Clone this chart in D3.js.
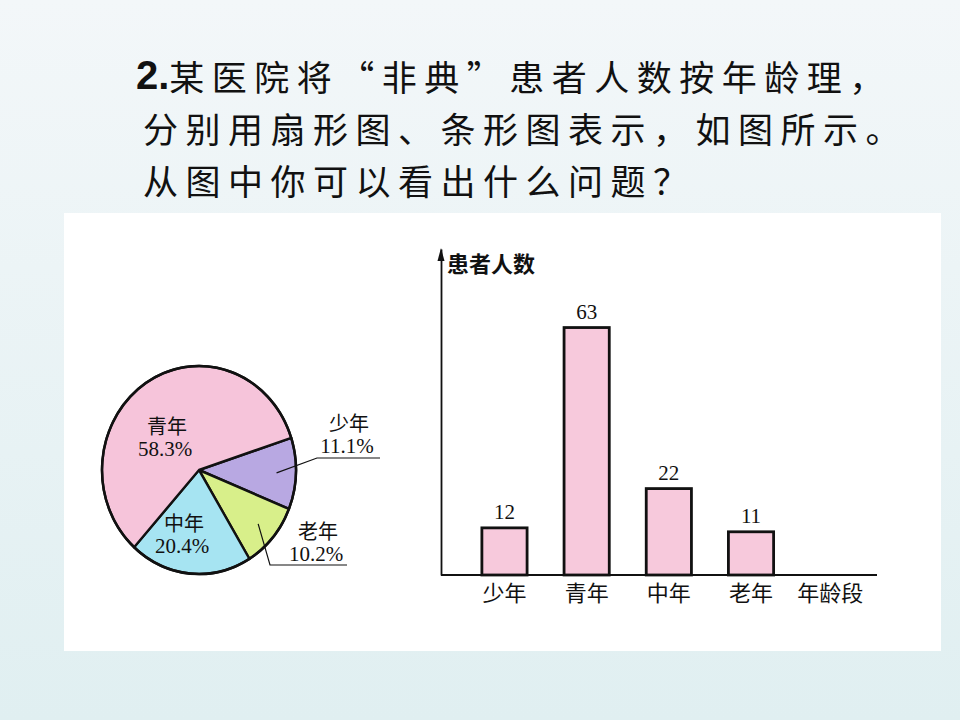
<!DOCTYPE html>
<html><head><meta charset="utf-8">
<script src="https://cdn.jsdelivr.net/npm/d3@7"></script>
<style>html,body{margin:0;padding:0;overflow:hidden;background:#fff}</style>
</head><body><svg id="c" width="960" height="720"></svg>
<script>
// ---- data ----
const categories = ["少年", "青年", "中年", "老年"];
const patients = [12, 63, 22, 11];
const pieOrder = ["少年", "老年", "中年", "青年"];
const titleNumber = "2.";
const titleLines = ["某医院将“非典”患者人数按年龄理，", "分别用扇形图、条形图表示，如图所示。", "从图中你可以看出什么问题？"];
const yAxisTitle = "患者人数";
const xAxisTitle = "年龄段";
const yAxisMax = 83;

// ---- styles ----
const sliceColors = {"少年": "#b8a8e2", "青年": "#f6c4da", "中年": "#a6e4f2", "老年": "#d8ef8a"};
const barColor = "#f7c9dc";
const cjk = "'Noto Sans CJK SC', sans-serif";
const serif = "'Liberation Serif', 'Noto Sans CJK SC', serif";

const svg = d3.select("#c");
const defs = svg.append("defs");
const grad = defs.append("linearGradient").attr("id", "bg").attr("x1", 0).attr("y1", 0).attr("x2", 0).attr("y2", 1);
grad.append("stop").attr("offset", "0%").attr("stop-color", "#f3f7f9");
grad.append("stop").attr("offset", "100%").attr("stop-color", "#e0eff1");
svg.append("rect").attr("width", 960).attr("height", 720).attr("fill", "url(#bg)");

// panel
svg.append("rect").attr("x", 64).attr("y", 213).attr("width", 877).attr("height", 438).attr("fill", "#ffffff");

// ---- title ----
const title = svg.append("g").attr("fill", "#111");
const lineY = [75, 127, 179];
const lineX = [136, 143, 143];
titleLines.forEach((t, i) => {
  const txt = title.append("text").attr("x", lineX[i]).attr("y", lineY[i])
    .attr("dominant-baseline", "central").style("font-size", "35px").style("font-family", cjk);
  if (i === 0) {
    txt.append("tspan").style("font-family", "'Liberation Sans', Arial, sans-serif")
      .style("font-weight", "bold").style("font-size", "40px").text(titleNumber);
  }
  txt.append("tspan").style("letter-spacing", "7.5px").text(t);
});

// ---- pie ----
const total = d3.sum(patients);
const valueOf = name => patients[categories.indexOf(name)];
const pieCx = 199, pieCy = 470, R = 100;
const startDeg = 72;
const pieG = svg.append("g").attr("transform", `translate(${pieCx},${pieCy}) scale(0.97,1.04)`);
const pie = d3.pie().sort(null).value(d => d.value)
  .startAngle(startDeg * Math.PI / 180).endAngle(startDeg * Math.PI / 180 + 2 * Math.PI);
const arcs = pie(pieOrder.map(n => ({name: n, value: valueOf(n)})));
const arc = d3.arc().innerRadius(0).outerRadius(R);
pieG.selectAll("path.slice").data(arcs).join("path").attr("class", "slice")
  .attr("d", arc).attr("fill", d => sliceColors[d.data.name])
  .attr("stroke", "#111").attr("stroke-width", 2.4).attr("stroke-linejoin", "round");
pieG.append("circle").attr("r", R).attr("fill", "none").attr("stroke", "#111").attr("stroke-width", 2.6);

const pct = d3.format(".1%");
// label layout relative to pie center (positions only)
const pieLabelLayout = {
  "青年": {x: -32, y: -45},
  "中年": {x: -15, y: 52},
  "少年": {x: 150, y: -48, elbow: [118, -12], lineEnd: 181},
  "老年": {x: 119, y: 60, elbow: [71, 95], lineEnd: 148}
};
const anchorArc = d3.arc().innerRadius(R * 0.8).outerRadius(R * 0.8);
const labelsG = svg.append("g").attr("transform", `translate(${pieCx},${pieCy})`);
arcs.forEach(a => {
  const L = pieLabelLayout[a.data.name];
  labelsG.append("text").attr("x", L.x).attr("y", L.y).attr("text-anchor", "middle")
    .attr("dominant-baseline", "central").style("font-family", cjk).style("font-size", "20px").attr("fill", "#111")
    .text(a.data.name);
  labelsG.append("text").attr("x", L.x - 2).attr("y", L.y + 24).attr("text-anchor", "middle")
    .attr("dominant-baseline", "central").style("font-family", serif).style("font-size", "21px").attr("fill", "#111")
    .text(pct(a.data.value / total));
  if (L.elbow) {
    const c = anchorArc.centroid(a);
    const p0 = [c[0] * 0.97, c[1] * 1.04];
    labelsG.append("path")
      .attr("d", d3.line()([p0, L.elbow, [L.lineEnd, L.elbow[1]]]))
      .attr("fill", "none").attr("stroke", "#111").attr("stroke-width", 1.2);
  }
});

// ---- bar chart ----
const x = d3.scaleBand().domain(categories).range([463.4, 792.1]).paddingInner(0.45).paddingOuter(0.225);
const y = d3.scaleLinear().domain([0, yAxisMax]).range([575, 249]);
const axisLeftX = 441;
const barG = svg.append("g");

barG.selectAll("rect.bar").data(categories).join("rect").attr("class", "bar")
  .attr("x", d => x(d)).attr("width", x.bandwidth())
  .attr("y", (d, i) => y(patients[i])).attr("height", (d, i) => y(0) - y(patients[i]))
  .attr("fill", barColor).attr("stroke", "#111").attr("stroke-width", 2.8);

barG.selectAll("text.val").data(categories).join("text").attr("class", "val")
  .attr("x", d => x(d) + x.bandwidth() / 2).attr("y", (d, i) => y(patients[i]) - 9)
  .attr("text-anchor", "middle").style("font-family", serif).style("font-size", "21px").attr("fill", "#111")
  .text((d, i) => patients[i]);

// x axis
const xAxis = barG.append("g").attr("transform", `translate(0,${y(0)})`)
  .call(d3.axisBottom(x).tickSize(0).tickPadding(10));
xAxis.select(".domain").remove();
xAxis.selectAll("text").style("font-family", cjk).style("font-size", "22px").attr("fill", "#111");
barG.append("line").attr("x1", axisLeftX).attr("x2", 877).attr("y1", y(0)).attr("y2", y(0))
  .attr("stroke", "#111").attr("stroke-width", 1.8);
barG.append("text").attr("x", x.range()[1] + x.step() / 2 - 3).attr("y", y(0) + 10).attr("dy", "0.71em")
  .attr("text-anchor", "middle").style("font-family", cjk).style("font-size", "22px").attr("fill", "#111")
  .text(xAxisTitle);

// y axis
const yAxis = barG.append("g").attr("transform", `translate(${axisLeftX},0)`)
  .call(d3.axisLeft(y).ticks(0).tickSize(0).tickSizeOuter(0));
yAxis.select(".domain").attr("stroke", "#111").attr("stroke-width", 1.8);
yAxis.selectAll(".tick").remove();
barG.append("path")
  .attr("d", `M${axisLeftX},${y(yAxisMax) - 1} L${axisLeftX - 3.5},${y(yAxisMax) + 12} L${axisLeftX + 3.5},${y(yAxisMax) + 12} Z`)
  .attr("fill", "#111");
barG.append("text").attr("x", axisLeftX + 6).attr("y", y(yAxisMax) + 13)
  .attr("dominant-baseline", "central").style("font-family", cjk).style("font-size", "22px")
  .style("font-weight", "bold").attr("fill", "#111").text(yAxisTitle);
</script>
</body></html>
